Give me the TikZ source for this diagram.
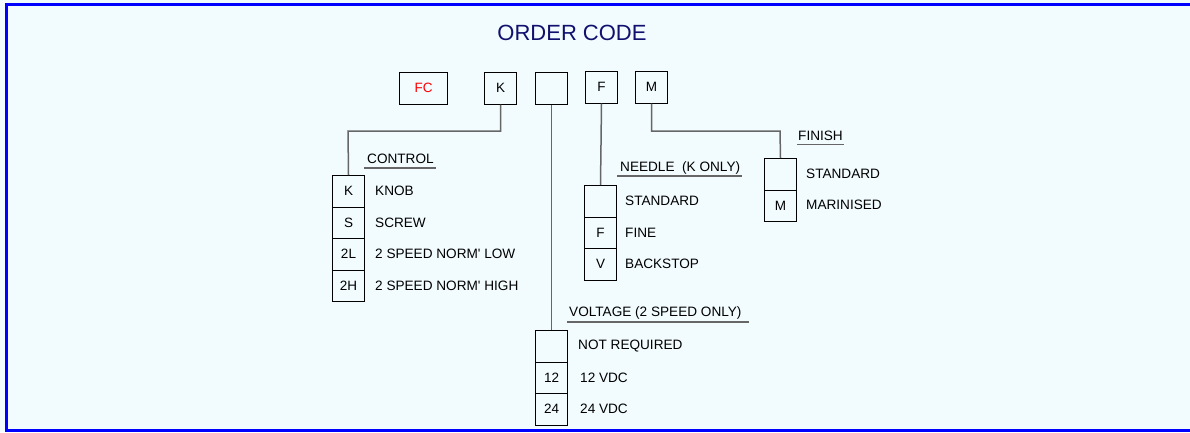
\documentclass[tikz,border=0pt]{standalone}
\usepackage{fontspec}
\setmainfont{Liberation Sans}
\begin{document}
\begin{tikzpicture}[x=1pt,y=-1pt,
  codebox/.style={draw=black,line width=1pt,minimum width=32pt,minimum height=31.5pt,inner sep=0pt,anchor=north west,font=\fontsize{13.5}{15}\selectfont},
  item/.style={anchor=west,inner sep=0pt,font=\fontsize{13.6}{15}\selectfont},
  heading/.style={anchor=west,inner sep=0pt,font=\fontsize{13.6}{15}\selectfont},
  uline/.style={draw=black!60,line width=1.5pt},
  conn/.style={draw=black!60,line width=1.5pt},
  frame/.style={draw=blue,line width=3.2pt}]
\useasboundingbox (0,0) rectangle (1190,432);
\fill[cyan!5] (0,0) rectangle (1190,432);
\definecolor{navyt}{RGB}{16,16,110}
\draw[frame] (1190,4.5) -- (6.5,4.5) -- (6.5,430.5) -- (1190,430.5);
\node[inner sep=0pt,text=navyt,font=\fontsize{22}{25}\selectfont] (title) at (572,33) {ORDER CODE};
% top code boxes
\node[codebox,minimum width=48pt,text=red] (fc) at (399,72) {FC};
\node[codebox] (k) at (484,72) {K};
\node[codebox] (v) at (535,72) {};
\node[codebox] (f) at (585,71) {F};
\node[codebox] (m) at (635,71) {M};
% control
\node[codebox] (c1) at (332,175) {K};
\node[codebox] (c2) at (332,206.5) {S};
\node[codebox] (c3) at (332,238) {2L};
\node[codebox] (c4) at (332,269.5) {2H};
\node[item] (t1) at (375,191) {KNOB};
\node[item] (t2) at (375,222.5) {SCREW};
\node[item] (t3) at (375,254) {2 SPEED NORM\textquotesingle\ LOW};
\node[item] (t4) at (375,285.5) {2 SPEED NORM\textquotesingle\ HIGH};
\node[heading] (hc) at (367,159) {CONTROL};
\draw[uline] (364,168) -- (436,168);
\coordinate (kc) at (348,131);
\draw[conn] (k.south) |- (kc) -- (c1.north);
% needle
\node[codebox] (n1) at (584,185) {};
\node[codebox] (n2) at (584,216.5) {F};
\node[codebox] (n3) at (584,248) {V};
\node[item] (nt1) at (625,201) {STANDARD};
\node[item] (nt2) at (625,232.5) {FINE};
\node[item] (nt3) at (625,264) {BACKSTOP};
\node[heading] (hn) at (620,168) {NEEDLE\ \ (K ONLY)};
\draw[uline] (617,176) -- (742,176);
\draw[conn] (f.south) -- (n1.north);
% voltage
\node[codebox] (w1) at (535,330) {};
\node[codebox] (w2) at (535,361.5) {12};
\node[codebox] (w3) at (535,393) {24};
\node[item] (wt1) at (578,346) {NOT REQUIRED};
\node[item] (wt2) at (580,377.5) {12 VDC};
\node[item] (wt3) at (580,409) {24 VDC};
\node[heading] (hw) at (569,313) {VOLTAGE (2 SPEED ONLY)};
\draw[uline] (567,322) -- (749,322);
\draw[conn] (v.south) -- (w1.north);
% finish
\node[codebox] (fi1) at (764,158) {};
\node[codebox] (fi2) at (764,189.5) {M};
\node[item] (ft1) at (806,174) {STANDARD};
\node[item] (ft2) at (806,205) {MARINISED};
\node[heading] (hf) at (798,136) {FINISH};
\draw[uline] (797,144.5) -- (844,144.5);
\coordinate (mc) at (780,131);
\draw[conn] (m.south) |- (mc) -- (fi1.north);
\end{tikzpicture}
\end{document}
